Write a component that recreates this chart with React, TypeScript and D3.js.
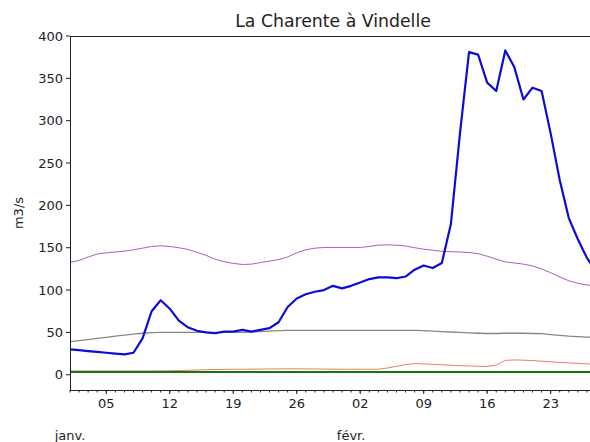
import React from "react";
import * as d3 from "d3";

// Daily series, 1 Jan 2015 – 28 Feb 2015 (m3/s)
const startDate = new Date(2015, 0, 1);
const endDate = new Date(2015, 1, 28);

const observedFlow = [
  30, 29, 28, 27, 26, 25, 24, 26, 43, 75,
  88, 78, 64, 56, 52, 50, 49, 51, 51, 53,
  51, 53, 55, 62, 80, 90, 95, 98, 100, 105,
  102, 105, 109, 113, 115, 115, 114, 116, 124, 129,
  126, 132, 178, 285, 381, 378, 345, 335, 383, 363,
  325, 339, 335, 285, 230, 185, 160, 138, 122,
];

const highFlow = [
  132.6, 135, 139, 142.5, 144, 145, 146, 147.5, 149.5, 151.5,
  152.3, 151.5, 150, 148, 144.5, 141, 136.5, 133.5, 131.5, 130.2,
  130.6, 132.5, 134.2, 136, 139, 144, 147.5, 149.5, 150.3, 150.3,
  150.3, 150.3, 150.3, 151.5, 153, 153.4, 153, 152, 150, 148.3,
  147, 145.7, 145.3, 145, 144.3, 143, 140, 136.5, 133.3, 132,
  130.6, 128.5, 125, 120.5, 115.5, 111, 108, 106, 105,
];

const medianFlow = [
  39, 40.3, 41.6, 42.9, 44.2, 45.5, 46.8, 48, 49, 49.7,
  50, 50, 50, 50, 50, 50, 50, 50, 50, 50,
  50.5, 51, 51.5, 52, 52.5, 52.5, 52.5, 52.5, 52.5, 52.5,
  52.5, 52.5, 52.5, 52.5, 52.5, 52.5, 52.5, 52.5, 52.5, 52,
  51.5, 51, 50.5, 50, 49.5, 49, 48.7, 48.7, 49, 49,
  49, 48.7, 48.5, 47.5, 46.5, 45.5, 45, 44.5, 44,
];

const lowFlow = [
  4.5, 4.5, 4.5, 4.5, 4.5, 4.5, 4.5, 4.5, 4.5, 4.5,
  4.6, 4.8, 5, 5.3, 5.6, 5.9, 6.2, 6.4, 6.5, 6.5,
  6.6, 6.7, 6.8, 6.9, 7, 7, 6.9, 6.8, 6.7, 6.6,
  6.5, 6.5, 6.5, 6.5, 6.5, 8, 10, 12, 13.2, 12.8,
  12.3, 11.8, 11.2, 10.8, 10.4, 10, 9.7, 11.5, 17, 17.5,
  17.2, 16.8, 16, 15.3, 14.6, 14, 13.4, 12.8, 12.3,
];

// Constant alert threshold (m3/s)
const thresholdFlow = 3.3;

const yTicks = [0, 50, 100, 150, 200, 250, 300, 350, 400];
const monthLabels = ["janv.", "févr."];
const title = "La Charente à Vindelle";
const yLabel = "m3/s";

const W = 590;
const H = 442;
const M = { left: 70, right: 596, top: 36, bottom: 390 };
const FONT = "DejaVu Sans, sans-serif";

export default function App() {
  const x = d3.scaleTime().domain([startDate, endDate]).range([M.left, M.right]);
  const y = d3.scaleLinear().domain([-18, 400]).range([M.bottom, M.top]);

  const dates = observedFlow.map((_, i) => d3.timeDay.offset(startDate, i));
  const line = d3
    .line<number>()
    .x((_, i) => x(dates[i]))
    .y((v) => y(v));

  const majorTicks = d3.timeMonday.range(startDate, d3.timeDay.offset(endDate, 1));
  const minorTicks = d3.timeDay.range(startDate, d3.timeDay.offset(endDate, 1));
  const months = d3.timeMonth.range(startDate, endDate);
  const fmtDay = d3.timeFormat("%d");

  const series = [
    { values: highFlow, color: "#ab5fba", width: 1 },
    { values: medianFlow, color: "#858585", width: 1.3 },
    { values: lowFlow, color: "#ec7a72", width: 1 },
  ];

  return (
    <div style={{ position: "absolute", left: 0, top: 0 }}>
      <svg width={W} height={H} style={{ display: "block", background: "#fff" }}>
        <defs>
          <clipPath id="plot-area">
            <rect x={M.left} y={M.top} width={M.right - M.left} height={M.bottom - M.top} />
          </clipPath>
        </defs>

        <g clipPath="url(#plot-area)" fill="none" strokeLinejoin="round">
          {series.map((s, k) => (
            <path key={k} d={line(s.values) ?? ""} stroke={s.color} strokeWidth={s.width} />
          ))}
          <line
            x1={x(startDate)}
            x2={x(endDate)}
            y1={y(thresholdFlow)}
            y2={y(thresholdFlow)}
            stroke="#107a10"
            strokeWidth={2}
          />
          <path d={line(observedFlow) ?? ""} stroke="#0c0cd8" strokeWidth={2.2} />
        </g>

        {/* spines */}
        <g stroke="#222" strokeWidth={1}>
          <line x1={M.left + 0.5} x2={M.left + 0.5} y1={M.top} y2={M.bottom} />
          <line x1={M.left} x2={M.right} y1={M.top + 0.5} y2={M.top + 0.5} />
          <line x1={M.left} x2={M.right} y1={M.bottom + 0.5} y2={M.bottom + 0.5} />
        </g>

        {/* y axis */}
        <g fontFamily={FONT} fontSize={13} fill="#222">
          {yTicks.map((t) => (
            <g key={t}>
              <line x1={M.left - 4} x2={M.left} y1={y(t)} y2={y(t)} stroke="#222" strokeWidth={1} />
              <text x={M.left - 7} y={y(t)} dy="0.36em" textAnchor="end">
                {t}
              </text>
            </g>
          ))}
        </g>

        {/* x axis */}
        <g stroke="#222" strokeWidth={1}>
          {minorTicks.map((d, i) => (
            <line key={i} x1={x(d)} x2={x(d)} y1={M.bottom} y2={M.bottom + 2.5} />
          ))}
          {majorTicks.map((d, i) => (
            <line key={i} x1={x(d)} x2={x(d)} y1={M.bottom} y2={M.bottom + 4} />
          ))}
        </g>
        <g fontFamily={FONT} fontSize={13} fill="#222" textAnchor="middle">
          {majorTicks.map((d, i) => (
            <text key={i} x={x(d)} y={408}>
              {fmtDay(d)}
            </text>
          ))}
          {months.map((d, i) => (
            <text key={i} x={x(d)} y={440}>
              {monthLabels[i]}
            </text>
          ))}
        </g>

        <text
          x={(M.left + M.right) / 2}
          y={27}
          textAnchor="middle"
          fontFamily={FONT}
          fontSize={17.3}
          fill="#222"
        >
          {title}
        </text>
        <text
          transform={`translate(23, ${(M.top + M.bottom) / 2}) rotate(-90)`}
          textAnchor="middle"
          fontFamily={FONT}
          fontSize={13}
          fill="#222"
        >
          {yLabel}
        </text>
      </svg>
    </div>
  );
}
